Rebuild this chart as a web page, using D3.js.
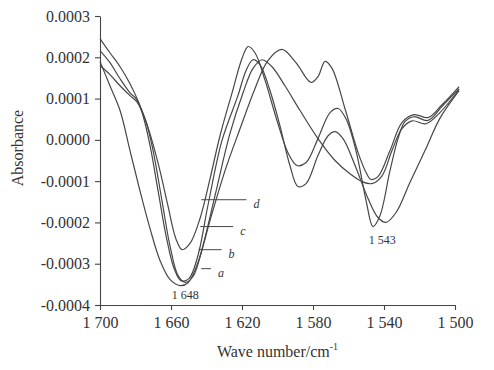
<!DOCTYPE html>
<html>
<head>
<meta charset="utf-8">
<script src="https://cdn.jsdelivr.net/npm/d3@7"></script>
<style>
  body { margin: 0; background: #fff; }
  text { font-family: "Liberation Serif", "DejaVu Serif", serif; fill: #333; }
</style>
</head>
<body>
<div id="chart"></div>
<script>
// axes ticks
const xTicks = [1700, 1660, 1620, 1580, 1540, 1500];
const yTicks = [-0.0004, -0.0003, -0.0002, -0.0001, 0, 0.0001, 0.0002, 0.0003];

// curve a
const waveA = [1700, 1694.4, 1688.7, 1683.1, 1677.5, 1671.8, 1666.2, 1660.6, 1654.9, 1650.4, 1644.8, 1638.0, 1629.6, 1621.1, 1612.7, 1605.4, 1597.5, 1589.6, 1581.1, 1577.2, 1573.2, 1569.3, 1562.0, 1554.6, 1550.1, 1547.3, 1543.4, 1536.6, 1529.9, 1523.1, 1515.2, 1507.3, 1497.7];
const absA = [1.90, 1.31, 0.71, -0.26, -1.23, -2.15, -2.92, -3.38, -3.53, -3.46, -2.97, -1.95, -0.75, 0.27, 1.24, 1.92, 2.19, 1.87, 1.39, 1.53, 1.90, 1.73, 0.76, -0.31, -0.79, -0.96, -0.89, -0.26, 0.42, 0.61, 0.54, 0.85, 1.29];

// curve b
const waveB = [1700, 1694.4, 1688.7, 1683.1, 1678.6, 1674.6, 1670.7, 1666.2, 1661.7, 1657.2, 1653.8, 1649.3, 1643.7, 1638.0, 1632.4, 1625.6, 1620.0, 1616.6, 1612.7, 1607.0, 1600.3, 1594.1, 1589.0, 1583.9, 1577.2, 1570.4, 1565.9, 1561.4, 1555.8, 1550.1, 1546.2, 1542.3, 1536.6, 1532.1, 1528.2, 1523.1, 1515.2, 1507.3, 1497.7];
const absB = [2.45, 2.11, 1.77, 1.36, 0.95, 0.51, -0.02, -0.75, -1.60, -2.40, -2.66, -2.51, -1.91, -0.94, 0.10, 1.14, 1.97, 2.26, 2.11, 1.44, 0.47, -0.31, -0.62, -0.55, 0.03, 0.66, 0.76, 0.51, -0.26, -1.47, -2.10, -1.84, -0.74, 0.03, 0.44, 0.56, 0.47, 0.81, 1.24];

// curve c
const waveC = [1700, 1694.4, 1688.7, 1683.1, 1679.2, 1675.8, 1671.8, 1667.3, 1662.8, 1658.3, 1654.4, 1649.9, 1644.8, 1639.2, 1631.3, 1622.3, 1617.7, 1613.8, 1609.9, 1604.2, 1598.6, 1593.0, 1588.5, 1583.9, 1577.2, 1571.5, 1567.6, 1563.1, 1556.3, 1549.0, 1543.4, 1538.9, 1533.2, 1525.4, 1516.9, 1508.5, 1497.7];
const absC = [2.16, 1.87, 1.48, 1.14, 0.97, 0.59, -0.14, -1.23, -2.32, -3.11, -3.41, -3.36, -2.80, -1.59, -0.02, 1.07, 1.68, 1.94, 1.82, 1.19, 0.34, -0.62, -1.13, -1.06, -0.38, 0.10, 0.20, 0.03, -0.62, -1.42, -1.88, -2.00, -1.76, -1.03, -0.26, 0.52, 1.19];

// curve d
const waveD = [1700, 1694.4, 1688.7, 1683.1, 1679.2, 1674.1, 1670.1, 1665.1, 1660.6, 1656.1, 1652.1, 1647.6, 1642.0, 1635.2, 1626.8, 1619.4, 1613.8, 1608.7, 1603.1, 1595.8, 1587.3, 1577.2, 1567.6, 1559.2, 1552.4, 1546.8, 1541.1, 1535.5, 1529.9, 1524.2, 1516.3, 1508.5, 1497.7];
const absD = [1.80, 1.58, 1.31, 1.07, 0.92, 0.44, -0.26, -1.47, -2.56, -3.28, -3.45, -3.31, -2.56, -1.35, 0.15, 1.14, 1.73, 1.94, 1.77, 1.31, 0.71, 0.03, -0.50, -0.82, -1.01, -1.06, -0.87, -0.26, 0.27, 0.46, 0.39, 0.66, 1.22];

// labels a-d : level (x1e-4), start and end of leader line
const labelNames = ["a", "b", "c", "d"];
const labelLevel = [-3.12, -2.66, -2.10, -1.45];
const labelFrom = [1643, 1644.5, 1643.5, 1643];
const labelTo = [1637.5, 1631.5, 1625, 1617.5];

// peak labels
const peakText = ["1 648", "1 543"];
const peakWave = [1652, 1541];
const peakLevel = [-3.86, -2.53];

const width = 494, height = 370;
const margin = {top: 16, right: 39, bottom: 65, left: 100};

const svg = d3.select("#chart")
    .append("svg")
    .attr("width", width)
    .attr("height", height);

svg.append("rect").attr("width", width).attr("height", height).attr("fill", "#fff");

const x = d3.scaleLinear()
    .domain([1700, 1500])
    .range([margin.left, width - margin.right]);
const y = d3.scaleLinear()
    .domain([-0.0004, 0.0003])
    .range([height - margin.bottom, margin.top]);

// axe X
const gx = svg.append("g")
    .attr("transform", `translate(0,${height - margin.bottom})`)
    .call(d3.axisBottom(x)
        .tickValues(xTicks)
        .tickSize(5)
        .tickPadding(7)
        .tickSizeOuter(0)
        .tickFormat(d => String(d).slice(0, 1) + " " + String(d).slice(1)));

// axe Y
const gy = svg.append("g")
    .attr("transform", `translate(${margin.left},0)`)
    .call(d3.axisLeft(y)
        .tickValues(yTicks)
        .tickSize(5)
        .tickPadding(5)
        .tickSizeOuter(0)
        .tickFormat(d => d.toFixed(4)));

[gx, gy].forEach(g => {
    g.selectAll("text")
        .attr("font-family", "Liberation Serif, serif")
        .attr("font-size", 16)
        .attr("fill", "#333");
    g.selectAll("line, path").attr("stroke", "#444").attr("stroke-width", 1.1);
});

// courbes
const series = [
    {wave: waveA, abs: absA},
    {wave: waveB, abs: absB},
    {wave: waveC, abs: absC},
    {wave: waveD, abs: absD}
];

const line = d3.line()
    .x(d => x(d[0]))
    .y(d => y(d[1] * 1e-4))
    .curve(d3.curveCatmullRom.alpha(0.5));

series.forEach(s => {
    svg.append("path")
        .datum(d3.zip(s.wave, s.abs))
        .attr("fill", "none")
        .attr("stroke", "#474747")
        .attr("stroke-width", 1.2)
        .attr("d", line);
});

// reperes a, b, c, d
labelNames.forEach((name, i) => {
    svg.append("line")
        .attr("x1", x(labelFrom[i]))
        .attr("x2", x(labelTo[i]))
        .attr("y1", y(labelLevel[i] * 1e-4))
        .attr("y2", y(labelLevel[i] * 1e-4))
        .attr("stroke", "#474747")
        .attr("stroke-width", 1);
    svg.append("text")
        .attr("x", x(labelTo[i]) + 7)
        .attr("y", y(labelLevel[i] * 1e-4) + 8)
        .attr("font-size", 12)
        .attr("font-style", "italic")
        .text(name);
});

peakText.forEach((t, i) => {
    svg.append("text")
        .attr("x", x(peakWave[i]))
        .attr("y", y(peakLevel[i] * 1e-4))
        .attr("text-anchor", "middle")
        .attr("font-size", 12)
        .text(t);
});

// titres des axes
svg.append("text")
    .attr("transform", "translate(23,148) rotate(-90)")
    .attr("text-anchor", "middle")
    .attr("font-size", 16)
    .text("Absorbance");

const xt = svg.append("text")
    .attr("x", (margin.left + width - margin.right) / 2)
    .attr("y", 357)
    .attr("text-anchor", "middle")
    .attr("font-size", 16);
xt.append("tspan").text("Wave number/cm");
xt.append("tspan").attr("dy", -7).attr("font-size", 10).text("-1");
</script>
</body>
</html>
